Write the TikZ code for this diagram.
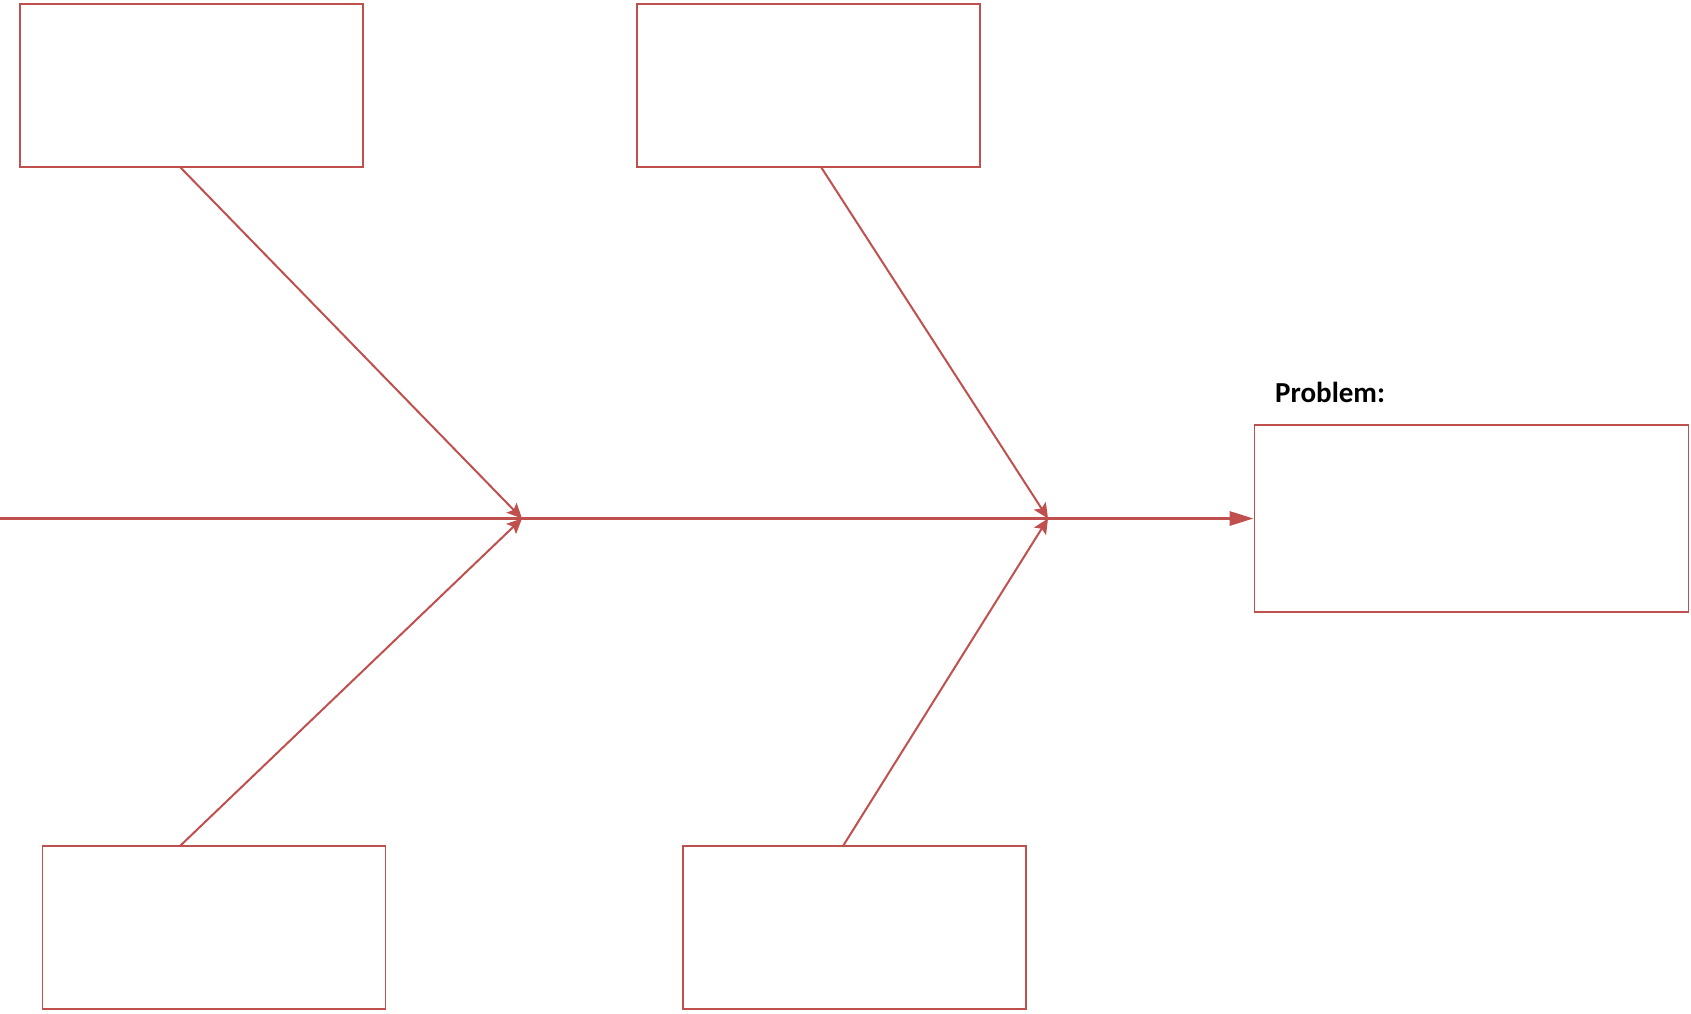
\documentclass[tikz,border=0pt]{standalone}
\usepackage{fontspec}
\setmainfont{Carlito}
\usetikzlibrary{arrows.meta}
\definecolor{bone}{HTML}{C0504D}
\begin{document}
\begin{tikzpicture}[x=1pt,y=-1pt,
  causebox/.style={draw=bone, line width=1.8pt, inner sep=0pt, fill=white},
  branch/.style={draw=bone, line width=2pt, -{Stealth[length=15pt,width=14pt,inset=3pt]}},
  spine/.style={draw=bone, line width=3pt, -{Triangle[length=24pt,width=14pt]}}]
  \useasboundingbox (0,0) rectangle (1691,1013);
  % cause boxes
  \node[causebox, minimum width=343pt, minimum height=163pt] (c1) at (191.5,85.5) {};
  \node[causebox, minimum width=343pt, minimum height=163pt] (c2) at (808.5,85.5) {};
  \node[causebox, minimum width=343pt, minimum height=163pt] (c3) at (214,927.5) {};
  \node[causebox, minimum width=343pt, minimum height=163pt] (c4) at (854.5,927.5) {};
  % problem box and its heading
  \node[causebox, minimum width=434pt, minimum height=187pt] (prob) at (1471.5,518.5) {};
  \node[anchor=base west, inner sep=0pt, font=\fontsize{29}{35}\selectfont\bfseries] (plabel) at (1275,402) {Problem:};
  % spine
  \coordinate (tail) at (0,518.5);
  \coordinate (j1) at (522,518.5);
  \coordinate (j2) at (1048,518.5);
  \coordinate (s1) at (180,167);
  \coordinate (s2) at (821,167);
  \coordinate (s3) at (180,846);
  \coordinate (s4) at (843,846);
  \draw[spine] (tail) -- (prob.west);
  % ribs
  \draw[branch] (s1) -- (j1);
  \draw[branch] (s3) -- (j1);
  \draw[branch] (s2) -- (j2);
  \draw[branch] (s4) -- (j2);
\end{tikzpicture}
\end{document}
